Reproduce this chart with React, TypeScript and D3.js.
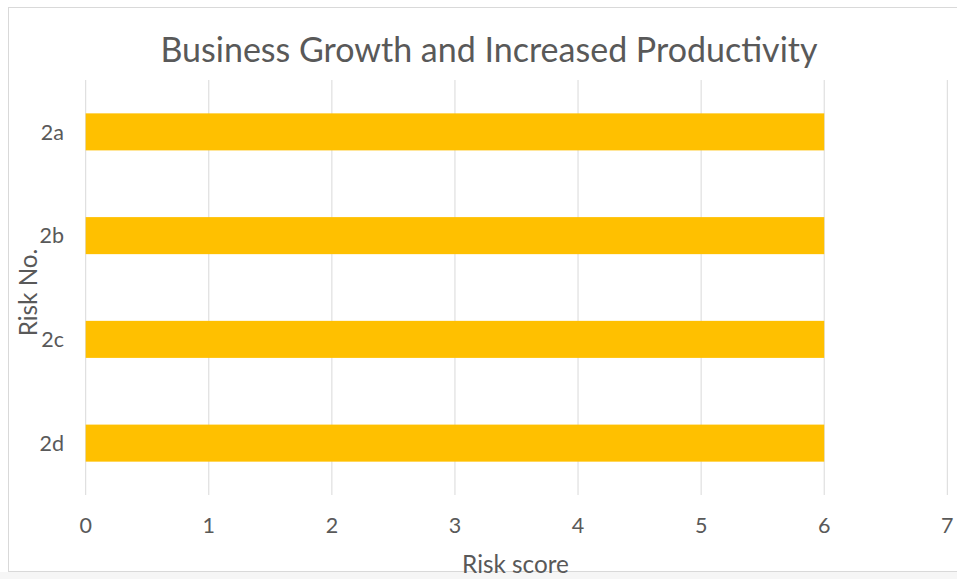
import React from "react";
import * as d3 from "d3";

const categories = ["2a", "2b", "2c", "2d"];
const values = [6, 6, 6, 6];
const xTicks = [0, 1, 2, 3, 4, 5, 6, 7];
const title = "Business Growth and Increased Productivity";
const xTitle = "Risk score";
const yTitle = "Risk No.";

const W = 957;
const H = 579;
const FONT = "Lato, 'Open Sans', sans-serif";
const TEXT = "#595959";
const GRID = "#d9d9d9";
const BAR = "#FFC000";

export default function App() {
  const left = 85.7;
  const right = 947.3;
  const top = 80;
  const bottom = 495;

  const x = d3.scaleLinear().domain([0, 7]).range([left, right]);
  const y = d3.scaleBand<string>().domain(categories).range([top, bottom]).padding(0);
  const barH = y.bandwidth() * 0.357;

  return (
    <svg
      width={W}
      height={H}
      style={{ position: "absolute", left: 0, top: 0, display: "block", background: "#fff" }}
    >
      <rect x={0} y={572} width={W} height={H - 572} fill="#f6f6f6" />
      <rect x={8.5} y={7.5} width={W + 10} height={564} fill="#fff" stroke={GRID} strokeWidth={1} />
      <text x={489} y={62} textAnchor="middle" fontFamily={FONT} fontSize={34} fill={TEXT}>
        {title}
      </text>
      {xTicks.map((t) => (
        <line key={"g" + t} x1={x(t)} x2={x(t)} y1={top} y2={bottom} stroke={GRID} strokeWidth={1} />
      ))}
      {categories.map((c, i) => (
        <rect
          key={c}
          x={x(0)}
          y={(y(c) as number) + (y.bandwidth() - barH) / 2}
          width={x(values[i]) - x(0)}
          height={barH}
          fill={BAR}
        />
      ))}
      {categories.map((c) => (
        <text
          key={"l" + c}
          x={64}
          y={(y(c) as number) + y.bandwidth() / 2}
          dy="0.36em"
          textAnchor="end"
          fontFamily={FONT}
          fontSize={21.5}
          fill={TEXT}
        >
          {c}
        </text>
      ))}
      {xTicks.map((t) => (
        <text
          key={"t" + t}
          x={x(t)}
          y={533}
          textAnchor="middle"
          fontFamily={FONT}
          fontSize={21.5}
          fill={TEXT}
        >
          {t}
        </text>
      ))}
      <text x={515.5} y={573} textAnchor="middle" fontFamily={FONT} fontSize={24.3} fill={TEXT}>
        {xTitle}
      </text>
      <text
        transform={`translate(37,292.5) rotate(-90)`}
        textAnchor="middle"
        fontFamily={FONT}
        fontSize={24.3}
        fill={TEXT}
      >
        {yTitle}
      </text>
    </svg>
  );
}
